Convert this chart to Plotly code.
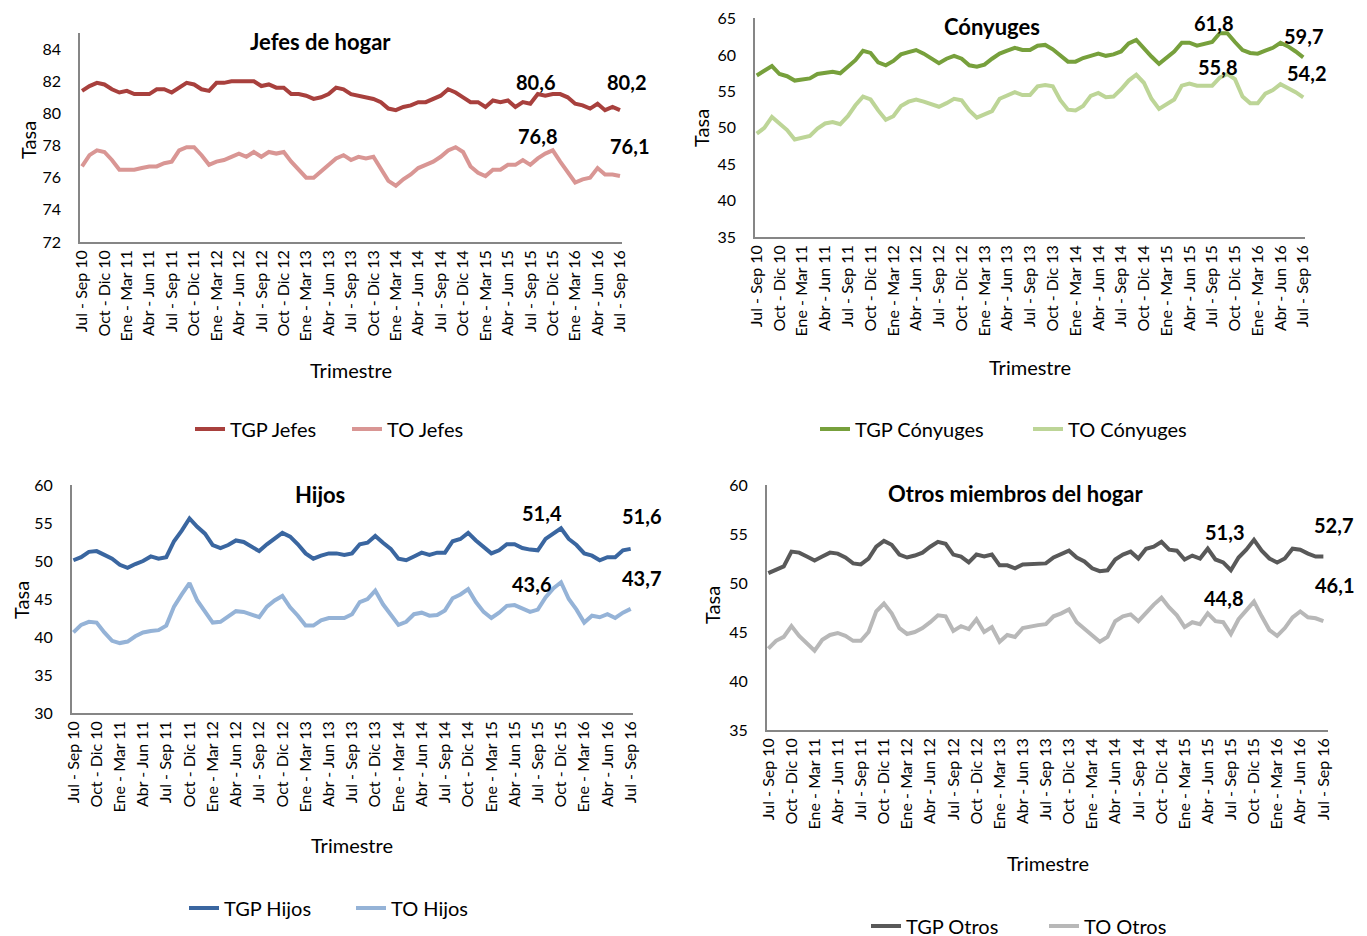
import plotly.graph_objects as go

# ---------------- data ----------------
tick_labels = ["Jul - Sep 10", "Oct - Dic 10", "Ene - Mar 11", "Abr - Jun 11", "Jul - Sep 11",
               "Oct - Dic 11", "Ene - Mar 12", "Abr - Jun 12", "Jul - Sep 12", "Oct - Dic 12",
               "Ene - Mar 13", "Abr - Jun 13", "Jul - Sep 13", "Oct - Dic 13", "Ene - Mar 14",
               "Abr - Jun 14", "Jul - Sep 14", "Oct - Dic 14", "Ene - Mar 15", "Abr - Jun 15",
               "Jul - Sep 15", "Oct - Dic 15", "Ene - Mar 16", "Abr - Jun 16", "Jul - Sep 16"]

tgp_jefes = [81.4, 81.7, 81.9, 81.8, 81.5, 81.3, 81.4, 81.2, 81.2, 81.2, 81.5, 81.5,
             81.3, 81.6, 81.9, 81.8, 81.5, 81.4, 81.9, 81.9, 82.0, 82.0, 82.0, 82.0,
             81.7, 81.8, 81.6, 81.6, 81.2, 81.2, 81.1, 80.9, 81.0, 81.2, 81.6, 81.5,
             81.2, 81.1, 81.0, 80.9, 80.7, 80.3, 80.2, 80.4, 80.5, 80.7, 80.7, 80.9,
             81.1, 81.5, 81.3, 81.0, 80.7, 80.7, 80.4, 80.8, 80.7, 80.8, 80.4, 80.7,
             80.6, 81.2, 81.1, 81.2, 81.2, 81.0, 80.6, 80.5, 80.3, 80.6, 80.2, 80.4,
             80.2]
to_jefes = [76.7, 77.4, 77.7, 77.6, 77.1, 76.5, 76.5, 76.5, 76.6, 76.7, 76.7, 76.9,
            77.0, 77.7, 77.9, 77.9, 77.4, 76.8, 77.0, 77.1, 77.3, 77.5, 77.3, 77.6,
            77.3, 77.6, 77.5, 77.6, 77.0, 76.5, 76.0, 76.0, 76.4, 76.8, 77.2, 77.4,
            77.1, 77.3, 77.2, 77.3, 76.5, 75.8, 75.5, 75.9, 76.2, 76.6, 76.8, 77.0,
            77.3, 77.7, 77.9, 77.6, 76.7, 76.3, 76.1, 76.5, 76.5, 76.8, 76.8, 77.1,
            76.8, 77.2, 77.5, 77.7, 77.0, 76.4, 75.7, 75.9, 76.0, 76.6, 76.2, 76.2,
            76.1]

tgp_conyuges = [57.2, 57.8, 58.5, 57.4, 57.1, 56.5, 56.6, 56.8, 57.4, 57.6, 57.7, 57.5,
                58.4, 59.3, 60.6, 60.3, 59.0, 58.6, 59.2, 60.1, 60.4, 60.7, 60.2, 59.6,
                58.9, 59.5, 59.9, 59.5, 58.6, 58.4, 58.7, 59.5, 60.2, 60.6, 61.0, 60.7,
                60.7, 61.3, 61.4, 60.8, 60.0, 59.1, 59.1, 59.6, 59.9, 60.2, 59.9, 60.1,
                60.5, 61.6, 62.1, 60.9, 59.8, 58.8, 59.7, 60.5, 61.7, 61.7, 61.3, 61.5,
                61.8, 63.0, 63.0, 61.8, 60.7, 60.3, 60.2, 60.6, 61.0, 61.7, 61.2, 60.5,
                59.7]
to_conyuges = [49.2, 50.0, 51.5, 50.6, 49.7, 48.4, 48.6, 48.9, 49.9, 50.6, 50.8, 50.5,
               51.6, 53.1, 54.3, 53.9, 52.4, 51.1, 51.6, 53.0, 53.6, 53.9, 53.6, 53.2,
               52.9, 53.4, 54.0, 53.8, 52.4, 51.4, 51.8, 52.3, 54.0, 54.4, 54.9, 54.5,
               54.5, 55.7, 55.9, 55.7, 53.8, 52.5, 52.4, 53.0, 54.4, 54.8, 54.2, 54.3,
               55.3, 56.5, 57.3, 56.2, 54.0, 52.6, 53.2, 53.9, 55.8, 56.1, 55.8, 55.8,
               55.8, 56.9, 57.4, 56.7, 54.3, 53.4, 53.4, 54.7, 55.2, 56.0, 55.5, 54.9,
               54.2]

tgp_hijos = [50.1, 50.5, 51.2, 51.3, 50.8, 50.3, 49.5, 49.1, 49.6, 50.0, 50.6, 50.3,
             50.5, 52.6, 54.0, 55.6, 54.5, 53.6, 52.1, 51.7, 52.1, 52.7, 52.5, 51.9,
             51.3, 52.2, 53.0, 53.7, 53.2, 52.2, 51.0, 50.3, 50.7, 51.0, 51.0, 50.8,
             51.0, 52.2, 52.4, 53.3, 52.4, 51.6, 50.3, 50.1, 50.6, 51.1, 50.8, 51.1,
             51.1, 52.6, 52.9, 53.7, 52.7, 51.9, 51.0, 51.4, 52.2, 52.2, 51.7, 51.5,
             51.4, 52.9, 53.6, 54.3, 52.9, 52.1, 51.0, 50.7, 50.1, 50.5, 50.5, 51.4,
             51.6]
to_hijos = [40.6, 41.6, 42.0, 41.9, 40.6, 39.5, 39.2, 39.4, 40.1, 40.6, 40.8, 40.9,
            41.5, 44.0, 45.6, 47.1, 44.8, 43.3, 41.9, 42.0, 42.7, 43.4, 43.3, 42.9,
            42.6, 44.0, 44.8, 45.4, 43.9, 42.8, 41.5, 41.5, 42.2, 42.5, 42.5, 42.5,
            43.0, 44.6, 45.0, 46.1, 44.3, 43.0, 41.6, 42.0, 43.0, 43.2, 42.8, 42.9,
            43.5, 45.1, 45.6, 46.3, 44.6, 43.3, 42.5, 43.2, 44.1, 44.2, 43.8, 43.3,
            43.6, 45.2, 46.4, 47.2, 45.0, 43.6, 41.9, 42.8, 42.6, 43.0, 42.5, 43.2,
            43.7]

tgp_otros = [51.0, 51.3, 51.7, 53.2, 53.1, 52.7, 52.3, 52.7, 53.1, 53.0, 52.6, 52.0,
             51.9, 52.5, 53.7, 54.3, 53.9, 52.9, 52.6, 52.8, 53.1, 53.7, 54.2, 54.0,
             52.9, 52.7, 52.1, 52.9, 52.7, 52.9, 51.8, 51.8, 51.5, 51.9, 51.9, 52.0,
             52.0, 52.6, 53.0, 53.3, 52.6, 52.2, 51.5, 51.2, 51.3, 52.4, 52.9, 53.2,
             52.5, 53.5, 53.7, 54.2, 53.4, 53.3, 52.4, 52.8, 52.5, 53.5, 52.4, 52.1,
             51.3, 52.6, 53.4, 54.4, 53.3, 52.5, 52.1, 52.5, 53.5, 53.4, 53.0, 52.7,
             52.7]
to_otros = [43.3, 44.1, 44.5, 45.6, 44.6, 43.8, 43.1, 44.2, 44.7, 44.9, 44.6, 44.1,
            44.1, 45.0, 47.1, 47.9, 46.9, 45.4, 44.8, 45.0, 45.4, 46.0, 46.7, 46.6,
            45.1, 45.6, 45.3, 46.3, 45.0, 45.5, 44.0, 44.7, 44.5, 45.4, 45.6, 45.7,
            45.8, 46.6, 46.9, 47.3, 46.0, 45.3, 44.6, 44.0, 44.5, 46.1, 46.6, 46.8,
            46.1, 47.0, 47.8, 48.5, 47.5, 46.7, 45.5, 46.0, 45.8, 46.9, 46.1, 46.0,
            44.8, 46.3, 47.2, 48.1, 46.6, 45.2, 44.6, 45.4, 46.5, 47.1, 46.5, 46.4,
            46.1]

# ---------------- layout helpers ----------------
W, H = 1367, 936
OFF = 8  # page body margin in the browser
FONT = "Lato, 'Open Sans', sans-serif"
AXCOL = "#868686"

def px(x):
    return (x - OFF) / W

def py(y):
    return 1 - (y - OFF) / H

n = len(tgp_jefes)
xs = list(range(n))
tickvals = list(range(0, n, 3))

panels = [
    dict(key="", tgp=tgp_jefes, to=to_jefes, names=("TGP Jefes", "TO Jefes"),
         colors=("#A8403D", "#D99694"), title="Jefes de hogar",
         xdom=(80, 622), ydom=(33, 242), yrange=(72, 85), dtick=2,
         xrange=(-0.27, 72.27),
         title_pos=(320, 42), tasa_pos=(28, 140), trim_pos=(351, 370),
         legend=dict(x=190, y=429, ew=112),
         labels=[(60, "tgp", 5, 22), (72, "tgp", 7, 28), (60, "to", 7, 29), (72, "to", 10, 30)]),
    dict(key="2", tgp=tgp_conyuges, to=to_conyuges, names=("TGP Cónyuges", "TO Cónyuges"),
         colors=("#77A03C", "#BDD597"), title="Cónyuges",
         xdom=(755, 1305), ydom=(18, 237), yrange=(35, 65.1), dtick=5,
         xrange=(-0.23, 72.23),
         title_pos=(992, 26), tasa_pos=(701, 128), trim_pos=(1030, 367),
         legend=dict(x=815, y=429, ew=168),
         labels=[(60, "tgp", 1, 19), (72, "tgp", 0, 21), (60, "to", 5, 19), (72, "to", 3, 24)]),
    dict(key="3", tgp=tgp_hijos, to=to_hijos, names=("TGP Hijos", "TO Hijos"),
         colors=("#3A66A0", "#95B3D7"), title="Hijos",
         xdom=(71.7, 633), ydom=(485, 713), yrange=(30, 60), dtick=5,
         xrange=(-0.22, 72.3),
         title_pos=(320, 494), tasa_pos=(21, 600), trim_pos=(352, 845),
         legend=dict(x=184, y=908, ew=122),
         labels=[(60, "tgp", 4, 37), (72, "tgp", 11, 33), (60, "to", -6, 26), (72, "to", 11, 31)]),
    dict(key="4", tgp=tgp_otros, to=to_otros, names=("TGP Otros", "TO Otros"),
         colors=("#595959", "#B8B8B8"), title="Otros miembros del hogar",
         xdom=(766.7, 1328), ydom=(485, 730), yrange=(35, 60), dtick=5,
         xrange=(-0.21, 72.6),
         title_pos=(1015, 493), tasa_pos=(712, 605), trim_pos=(1048, 863),
         legend=dict(x=866, y=926, ew=133),
         labels=[(60, "tgp", -6, 38), (72, "tgp", 10, 32), (60, "to", -7, 36), (72, "to", 11, 36)]),
]

fig = go.Figure()
annotations = []
layout = dict(
    width=W, height=H,
    margin=dict(l=0, r=0, t=0, b=0, pad=0, autoexpand=False),
    paper_bgcolor="white", plot_bgcolor="white",
    font=dict(family=FONT, color="black"),
)

for p in panels:
    k = p["key"]
    xa = "x" + k
    ya = "y" + k
    leg = "legend" + k
    for series, name, color in ((p["tgp"], p["names"][0], p["colors"][0]),
                                (p["to"], p["names"][1], p["colors"][1])):
        fig.add_trace(go.Scatter(x=xs, y=series, mode="lines", name=name,
                                 line=dict(color=color, width=4),
                                 xaxis=xa, yaxis=ya, legend=leg,
                                 hoverinfo="skip"))
    layout["xaxis" + k] = dict(
        domain=[px(p["xdom"][0]), px(p["xdom"][1])], anchor=ya, automargin=False,
        range=list(p["xrange"]), tickmode="array", tickvals=tickvals,
        ticktext=tick_labels, tickangle=-90, tickfont=dict(size=16, color="black"),
        showline=True, linecolor=AXCOL, linewidth=1.5, showgrid=False,
        zeroline=False, ticks="", fixedrange=True, ticklabeloverflow="allow")
    layout["yaxis" + k] = dict(
        domain=[py(p["ydom"][1]), py(p["ydom"][0])], anchor=xa, automargin=False,
        range=list(p["yrange"]), dtick=p["dtick"], tick0=p["yrange"][0],
        tickfont=dict(size=16, color="black"), showline=True, linecolor=AXCOL,
        linewidth=1.5, showgrid=False, zeroline=False, ticks="",
        ticklabelstandoff=14, fixedrange=True, ticklabeloverflow="allow")
    lg = p["legend"]
    layout[leg] = dict(orientation="h", x=px(lg["x"]), y=py(lg["y"]),
                       xanchor="left", yanchor="middle", entrywidth=lg["ew"],
                       font=dict(size=20, color="black"), bgcolor="rgba(0,0,0,0)",
                       traceorder="normal")
    # panel title
    annotations.append(dict(text="<b>" + p["title"] + "</b>", xref="paper", yref="paper",
                            x=px(p["title_pos"][0]), y=py(p["title_pos"][1]),
                            showarrow=False, font=dict(size=22, color="black"),
                            xanchor="center", yanchor="middle"))
    annotations.append(dict(text="Tasa", xref="paper", yref="paper",
                            x=px(p["tasa_pos"][0]), y=py(p["tasa_pos"][1]),
                            showarrow=False, textangle=-90, font=dict(size=20, color="black"),
                            xanchor="center", yanchor="middle"))
    annotations.append(dict(text="Trimestre", xref="paper", yref="paper",
                            x=px(p["trim_pos"][0]), y=py(p["trim_pos"][1]),
                            showarrow=False, font=dict(size=20, color="black"),
                            xanchor="center", yanchor="middle"))
    for idx, which, dx, dy in p["labels"]:
        v = p[which][idx]
        annotations.append(dict(text="<b>" + f"{v:.1f}".replace(".", ",") + "</b>",
                                xref=xa, yref=ya, x=idx, y=v, showarrow=False,
                                xshift=dx, yshift=dy, font=dict(size=20, color="black"),
                                xanchor="center", yanchor="middle"))

layout["annotations"] = annotations
fig.update_layout(**layout)
fig.write_html("out.html")
